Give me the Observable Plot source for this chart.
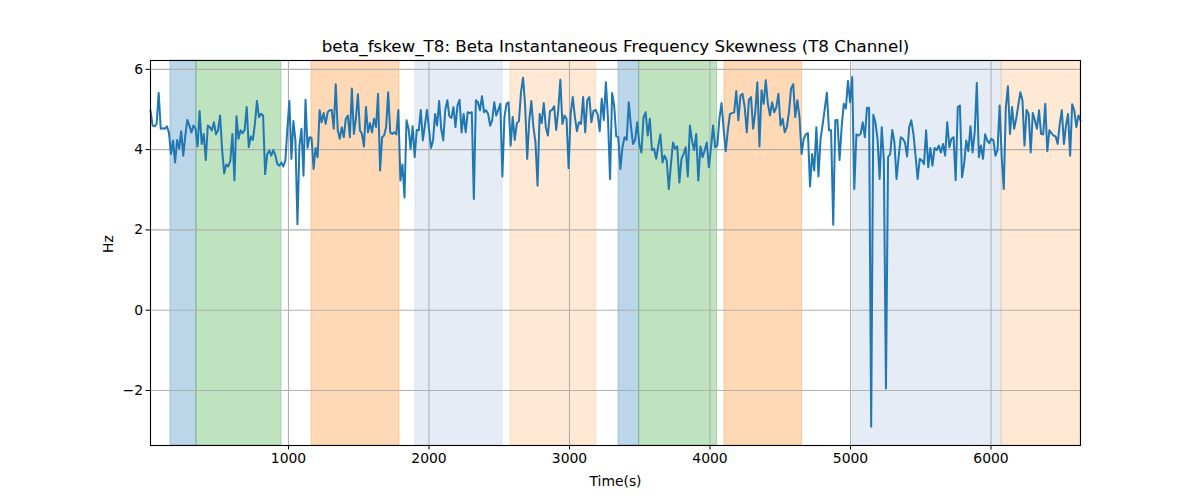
<!DOCTYPE html>
<html><head><meta charset="utf-8">
<script src="https://cdn.jsdelivr.net/npm/d3@7"></script>
<script src="https://cdn.jsdelivr.net/npm/@observablehq/plot@0.6"></script>
<style>body{margin:0;background:#fff;font-family:"DejaVu Sans",sans-serif}</style>
</head><body><div id="chart"></div>
<script>
const titleText = "beta_fskew_T8: Beta Instantaneous Frequency Skewness (T8 Channel)";
const xLabel = "Time(s)";
const yLabel = "Hz";
const xTicks = [1000, 2000, 3000, 4000, 5000, 6000];
const yTicks = [-2, 0, 2, 4, 6];
const xDomain = [18, 6637];
const yDomain = [-3.37, 6.22];

// Frequency-skewness trace, read piecewise (segment start/end times in seconds)
const segStart = [18, 863, 1695, 2537, 3377, 4217, 5057, 5899];
const segEnd   = [863, 1695, 2537, 3377, 4217, 5057, 5899, 6637];
const seg1 = [4.98,4.60,4.58,4.64,5.41,4.52,4.53,4.52,4.58,4.43,3.89,4.23,3.68,4.24,4.02,4.46,3.85,4.35,4.74,4.60,4.43,4.60,4.52,4.08,4.96,4.14,4.39,3.74,4.60,4.56,4.48,4.68,4.38,4.48,4.85,3.98,3.41,3.63,3.58,3.73,4.39,3.24,4.83,4.27,4.48,4.41,4.49,5.06,4.06,4.33,4.24,4.64,5.21,4.81,4.89,4.85,3.39,3.88];
const seg2 = [3.98,3.85,3.99,3.87,3.64,3.60,3.68,3.58,3.73,4.52,5.21,3.77,4.71,4.23,2.14,4.10,4.52,3.35,5.24,4.04,4.31,4.29,3.52,4.04,3.81,4.98,4.68,4.91,4.64,4.93,4.98,4.99,4.52,5.63,4.48,4.27,4.56,4.31,4.77,4.85,4.31,5.52,4.39,4.77,5.38,4.48,4.39,4.08,5.06,4.43,4.66,4.43,4.77,4.56,5.39,3.48,4.31,4.35];
const seg3 = [4.56,5.43,4.43,4.39,4.43,4.38,4.99,3.23,3.63,2.81,4.73,4.52,4.02,4.58,3.81,4.49,4.48,4.99,4.23,4.60,4.99,4.52,4.04,4.23,4.89,4.60,5.21,4.52,4.23,4.99,5.23,4.83,4.79,5.06,4.56,5.10,5.24,4.43,4.89,4.43,4.93,4.91,4.93,2.77,5.23,5.18,4.98,5.33,4.93,4.98,4.89,4.60,4.73,5.18,4.85,4.99,5.14,3.33];
const seg4 = [4.81,5.14,5.18,4.10,4.81,4.24,4.66,4.71,5.43,5.79,5.10,3.77,4.73,5.21,4.56,4.18,3.10,4.89,4.66,5.16,4.56,4.35,4.96,4.99,5.08,4.49,4.98,5.74,4.64,4.85,4.77,3.54,4.89,5.31,4.83,4.46,4.68,4.64,5.31,4.43,5.23,5.31,4.68,4.96,4.99,4.88,4.46,5.27,4.74,5.68,4.79,3.27,5.41,5.10,4.33,4.31,3.52];
const seg5 = [4.06,4.31,4.24,5.18,4.60,4.14,4.24,4.68,4.14,3.93,4.81,4.93,4.35,4.77,3.99,4.02,3.77,4.10,4.38,3.68,3.85,3.73,3.02,3.64,4.18,4.02,4.08,3.18,3.77,3.89,4.06,3.33,4.60,4.23,3.99,4.39,3.23,4.08,3.81,3.98,4.18,3.56,4.04,4.60,4.06,4.10,4.77,5.16,4.52,3.96,4.48,4.89,4.91,4.93,5.46,4.73];
const seg6 = [5.35,5.39,5.06,4.43,5.24,5.31,4.52,4.93,5.68,4.08,5.48,5.14,5.73,5.14,4.85,5.18,4.93,5.06,5.39,4.60,4.77,4.43,4.56,4.93,5.52,5.63,4.81,5.23,4.81,3.89,4.27,4.38,4.41,3.08,3.89,3.48,4.56,3.33,4.27,4.63,5.02,5.42,4.48,4.48,2.13,4.73,4.74,3.74,4.56,5.14,5.02,5.71,5.18,5.81,3.02,4.38];
const seg7 = [4.35,4.39,4.68,4.31,5.04,5.04,-2.90,4.87,4.68,4.27,3.27,4.56,3.73,-1.95,3.81,3.89,4.49,4.18,3.27,3.81,4.31,4.27,4.18,3.83,4.56,4.73,4.39,3.85,3.27,3.77,3.73,3.64,4.48,3.56,4.04,3.60,4.04,3.99,4.10,3.93,4.14,3.85,4.68,4.06,4.27,4.31,3.24,5.06,5.10,3.31,3.64,4.23,3.96,4.58,3.93,4.43];
const seg8 = [5.66,3.81,4.10,3.77,4.38,4.23,4.16,4.27,4.23,3.85,3.99,5.10,3.81,3.02,5.06,5.58,4.39,5.06,4.52,4.77,5.10,5.43,5.23,4.10,4.99,4.89,3.93,4.91,4.74,4.52,4.98,4.39,4.38,5.14,3.96,4.48,4.41,4.35,4.33,4.14,4.64,4.98,4.14,4.60,4.89,3.85,5.13,4.98,4.56,4.85,4.73];

// Shaded spans
const bandStart = [160, 345, 1164, 1904, 2580, 3349, 3496, 4103, 5016, 6075];
const bandEnd   = [345, 950, 1790, 2523, 3190, 3496, 4050, 4656, 6075, 6637];
const bandColor = ["#1f77b4","#2ca02c","#ff7f0e","#e5ecf6","#ff7f0e","#1f77b4","#2ca02c","#ff7f0e","#e5ecf6","#ff7f0e"];
const bandAlpha = [0.3, 0.3, 0.3, 1, 0.18, 0.3, 0.3, 0.3, 1, 0.18];

const segments = [seg1, seg2, seg3, seg4, seg5, seg6, seg7, seg8];
const data = [];
segments.forEach((vals, k) => {
  const s = segStart[k], e = segEnd[k];
  const last = k === segments.length - 1;
  const step = (e - s) / (last ? vals.length - 1 : vals.length);
  vals.forEach((v, j) => data.push({t: s + j * step, v}));
});
const bands = bandStart.map((s, i) => ({start: s, end: bandEnd[i], color: bandColor[i], alpha: bandAlpha[i]}));

const fmtY = d => d < 0 ? "\u2212" + Math.abs(d) : String(d);

const chart = Plot.plot({
  width: 1200, height: 500,
  marginLeft: 150, marginRight: 120, marginTop: 60, marginBottom: 55,
  style: {fontFamily: "'DejaVu Sans', sans-serif", fontSize: "13.9px", color: "black", background: "white"},
  x: {domain: xDomain},
  y: {domain: yDomain},
  marks: [
    ...bands.map(b => Plot.rect([b], {x1: "start", x2: "end", fill: b.color, fillOpacity: b.alpha, stroke: b.alpha === 1 ? "#dbe4f1" : b.color, strokeOpacity: b.alpha === 1 ? 1 : b.alpha, strokeWidth: 1})),
    Plot.ruleX(xTicks, {stroke: "#b0b0b0", strokeWidth: 1.1}),
    Plot.ruleY(yTicks, {stroke: "#b0b0b0", strokeWidth: 1.1}),
    Plot.line(data, {x: "t", y: "v", stroke: "#1f77b4", strokeWidth: 2}),
    Plot.frame({stroke: "black", strokeWidth: 1.1}),
    Plot.axisX(xTicks, {tickSize: 4.5, tickPadding: 3, tickFormat: d => String(d), label: null, fontSize: 13.9}),
    Plot.axisY(yTicks, {tickSize: 4.5, tickPadding: 3, tickFormat: fmtY, label: null, fontSize: 13.9}),
    Plot.text([xLabel], {frameAnchor: "bottom", dy: 36, lineAnchor: "middle", fontSize: 13.9, fill: "black"}),
    Plot.text([yLabel], {frameAnchor: "left", dx: -42, rotate: -90, lineAnchor: "middle", fontSize: 13.9, fill: "black"}),
    Plot.text([titleText], {frameAnchor: "top", dy: -14, lineAnchor: "middle", fontSize: 16.7, fill: "black"})
  ]
});
document.getElementById("chart").appendChild(chart);
</script>
</body></html>
